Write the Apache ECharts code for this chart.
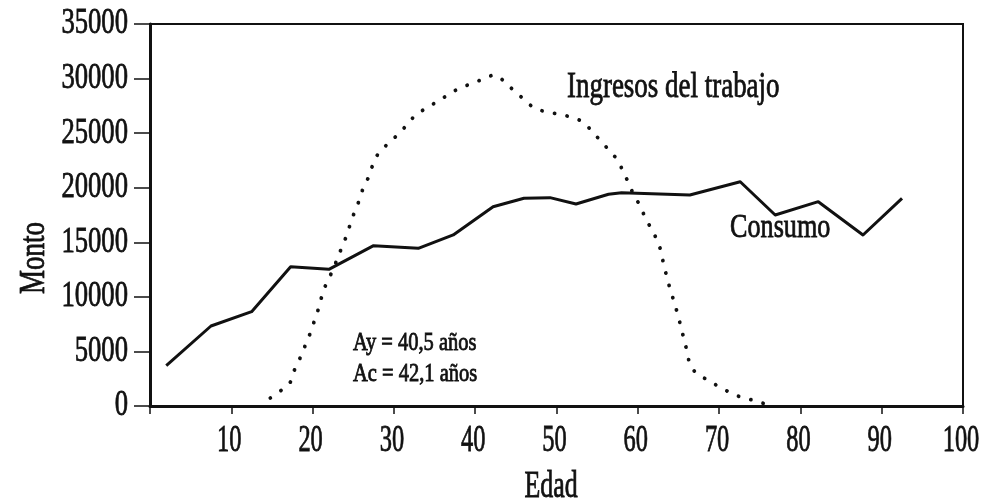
<!DOCTYPE html>
<html>
<head>
<meta charset="utf-8">
<script src="https://cdn.jsdelivr.net/npm/echarts@6/dist/echarts.min.js"></script>
<style>
  html, body { margin: 0; padding: 0; background: #fff; }
  #chart { width: 981px; height: 504px; }
</style>
</head>
<body>
<div id="chart"></div>
<script>
// Consumo por edad (línea continua)
const consumoEdad = [2, 7.5, 12.5, 17.3, 22, 27.5, 33, 37.3, 42.2, 46, 49.2, 52.4, 56.4, 58, 66.4, 72.6, 76.9, 82.2, 87.7, 92.5];
const consumoMonto = [3700, 7330, 8640, 12760, 12520, 14690, 14450, 15670, 18260, 19030, 19090, 18510, 19400, 19540, 19330, 20550, 17500, 18720, 15670, 19030];

// Ingresos del trabajo por edad (línea punteada)
const ingresosEdad = [14.8, 16.2, 17.3, 17.8, 18.5, 19.1, 19.7, 20.2, 20.7, 21.1, 21.6, 22.3, 22.9, 23.5, 24.1, 24.6, 25.1, 25.7, 26.2, 26.9, 27.4, 28.1, 29.2, 30.3, 31.4, 32.4, 33.6, 35.1, 36.5, 37.9, 39.4, 40.9, 42.4, 43.5, 44.8, 46.0, 47.3, 48.7, 50.3, 51.9, 53.3, 54.4, 55.5, 56.6, 57.6, 58.2, 58.9, 59.5, 60.3, 60.9, 61.7, 62.4, 62.9, 63.2, 63.6, 64.0, 64.5, 64.9, 65.3, 65.7, 66.1, 66.4, 67.2, 68.6, 70.0, 71.4, 72.9, 74.4, 76.0];
const ingresosMonto = [730, 1470, 2230, 3360, 4460, 5560, 6660, 7760, 8860, 9960, 11060, 12160, 13220, 14360, 15460, 16580, 17660, 18780, 19910, 21010, 22080, 23150, 23980, 24740, 25590, 26450, 27120, 27790, 28430, 29050, 29500, 29930, 30330, 29780, 28860, 28100, 27280, 26970, 26730, 26450, 25990, 25130, 24230, 23320, 22450, 21440, 20400, 19330, 18330, 17270, 16190, 15140, 14050, 12860, 11790, 10630, 9470, 8400, 7270, 6050, 4880, 3850, 3000, 2380, 1770, 1220, 760, 490, 100];

// Etiquetas de los ejes
const xTicks = [10, 20, 30, 40, 50, 60, 70, 80, 90, 100];
const yTicks = [0, 5000, 10000, 15000, 20000, 25000, 30000, 35000];

const FONT = '"Liberation Serif", "Times New Roman", serif';
const INK = '#111';

const chart = echarts.init(document.getElementById('chart'), null, { renderer: 'canvas' });

const zip = (a, b) => a.map((v, i) => [v, b[i]]);

chart.setOption({
  backgroundColor: '#fff',
  animation: false,
  grid: {
    left: 150, right: 18, top: 24, bottom: 98,
    show: true, borderColor: INK, borderWidth: 2, backgroundColor: 'transparent'
  },
  xAxis: {
    type: 'value', min: 0, max: 100, interval: 10,
    axisLine: { show: true, lineStyle: { color: INK, width: 3 } },
    axisTick: { show: true, inside: false, length: 8, lineStyle: { color: INK, width: 1.5 } },
    axisLabel: { show: false },
    splitLine: { show: false }
  },
  yAxis: {
    type: 'value', min: 0, max: 35000, interval: 5000,
    axisLine: { show: true, lineStyle: { color: INK, width: 3 } },
    axisTick: { show: true, inside: false, length: 16, lineStyle: { color: INK, width: 1.5 } },
    axisLabel: { show: false },
    splitLine: { show: false }
  },
  series: [
    {
      name: 'Consumo', type: 'line', data: zip(consumoEdad, consumoMonto),
      symbol: 'none', lineStyle: { color: INK, width: 3, join: 'round' }, z: 3
    },
    {
      name: 'Ingresos del trabajo', type: 'line', data: zip(ingresosEdad, ingresosMonto),
      symbol: 'none', smooth: 0.3,
      lineStyle: { color: INK, width: 3.8, type: [0.1, 12.7], cap: 'round' }, z: 2
    }
  ]
});

// Texto con tipografía condensada (escala horizontal) y trazo algo grueso
function label(text, x, y, size, sx, align, extra) {
  return Object.assign({
    type: 'text', x: x, y: y, scaleX: sx, silent: true, z: 10,
    style: {
      text: text, font: size + 'px ' + FONT, fill: INK,
      stroke: INK, lineWidth: 0.8,
      textAlign: align, textVerticalAlign: 'middle',
      align: align, verticalAlign: 'middle'
    }
  }, extra || {});
}

const graphics = [];
yTicks.forEach(v => {
  const p = chart.convertToPixel({ gridIndex: 0 }, [0, v]);
  graphics.push(label(String(v), p[0] - 22, p[1], 36, 0.74, 'right'));
});
xTicks.forEach(v => {
  const p = chart.convertToPixel({ gridIndex: 0 }, [v, 0]);
  graphics.push(label(String(v), p[0] - 2, p[1] + 35, 37, 0.66, 'center'));
});

graphics.push(label('Monto', 35, 258, 36, 0.75, 'center', { rotation: Math.PI / 2 }));
graphics.push(label('Edad', 551, 487, 37, 0.7, 'center'));
graphics.push(label('Ingresos del trabajo', 567, 88, 35, 0.77, 'left'));
graphics.push(label('Consumo', 730, 228, 34, 0.77, 'left'));
graphics.push(label('Ay = 40,5 años', 353, 343, 25, 0.82, 'left'));
graphics.push(label('Ac = 42,1 años', 353, 374, 25, 0.82, 'left'));

chart.setOption({ graphic: graphics });
</script>
</body>
</html>
